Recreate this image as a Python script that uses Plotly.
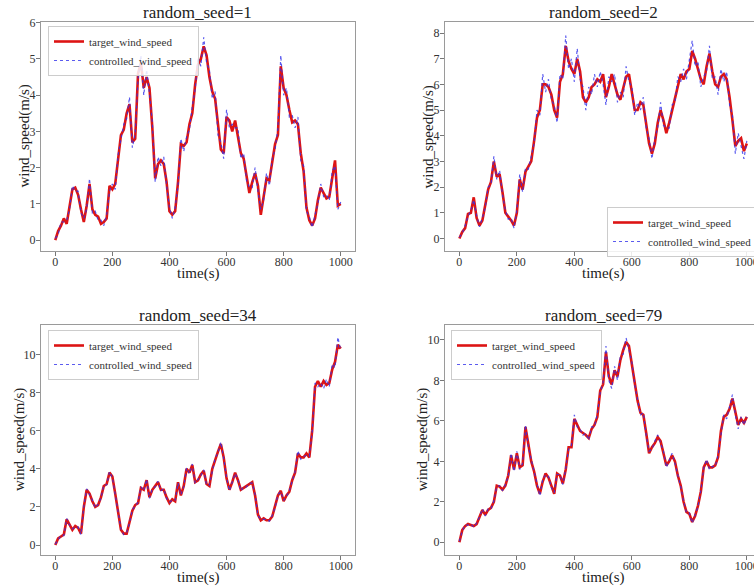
import plotly.graph_objects as go

time_s = list(range(0, 1001, 10))

seed1_target = [0.0,0.25,0.4,0.6,0.45,0.95,1.4,1.45,1.25,0.85,
 0.5,0.95,1.55,0.85,0.7,0.65,0.45,0.5,0.6,1.5,
 1.4,1.55,2.2,2.9,3.05,3.5,3.75,2.7,2.8,4.6,
 4.9,4.2,4.5,4.2,3.1,1.7,2.1,2.2,2.1,1.6,
 0.8,0.7,0.8,1.6,2.65,2.6,2.7,3.2,3.5,4.3,
 4.85,5.0,5.35,5.1,4.5,4.1,3.9,3.1,2.5,2.4,
 3.4,3.3,3.0,3.3,2.9,2.4,2.25,1.8,1.3,1.6,
 1.85,1.5,0.7,1.2,1.7,1.65,2.1,2.65,2.9,4.8,
 4.2,4.0,3.6,3.25,3.3,3.2,2.4,1.9,0.9,0.55,
 0.4,0.6,1.1,1.45,1.3,1.15,1.2,1.75,2.2,0.95,
 1.0]
seed1_ctrl = [0.05,0.15,0.5,0.5,0.55,0.85,1.5,1.35,1.35,0.75,
 0.6,0.85,1.7,0.75,0.8,0.55,0.55,0.4,0.7,1.35,
 1.55,1.4,2.35,2.75,3.2,3.35,3.95,2.55,2.95,4.45,
 5.1,4.0,4.7,4.05,3.25,1.6,2.3,2.05,2.3,1.5,
 0.9,0.6,0.9,1.5,2.8,2.45,2.85,3.05,3.7,4.15,
 5.05,4.8,5.6,4.9,4.7,3.9,4.1,2.9,2.7,2.25,
 3.6,3.1,3.2,3.1,3.1,2.25,2.4,1.65,1.45,1.45,
 2.0,1.35,0.85,1.1,1.85,1.5,2.25,2.5,3.1,5.1,
 4.0,4.2,3.4,3.45,3.1,3.4,2.2,2.05,0.8,0.65,
 0.35,0.7,1.0,1.55,1.2,1.25,1.1,1.9,2.05,0.85,
 1.05]

seed2_target = [0.0,0.25,0.4,0.95,1.0,1.6,0.8,0.5,0.7,1.3,
 1.9,2.2,3.0,2.4,2.5,1.8,1.0,0.85,0.7,0.5,
 1.0,2.3,1.9,2.6,2.8,3.0,3.8,4.7,5.0,6.0,
 6.0,5.9,5.6,5.0,4.7,6.1,6.4,7.5,6.9,6.6,
 6.4,7.0,6.5,5.5,5.3,5.5,5.9,6.0,6.2,6.1,
 6.4,5.5,5.9,6.4,6.0,5.6,5.4,5.8,6.3,6.4,
 5.6,5.0,5.0,5.3,5.2,4.5,3.7,3.3,3.7,4.5,
 5.0,4.6,4.1,4.5,5.0,5.5,6.0,6.4,6.2,6.5,
 6.6,7.3,7.0,6.6,6.2,6.0,6.7,7.2,6.5,6.0,
 5.9,6.3,6.4,6.2,5.5,4.6,3.6,3.8,3.9,3.4,
 3.7]
seed2_ctrl = [0.05,0.2,0.5,0.85,1.1,1.5,0.9,0.45,0.8,1.2,
 2.0,2.1,3.2,2.3,2.65,1.7,1.1,0.75,0.8,0.4,
 1.1,2.5,1.8,2.75,2.7,3.15,3.7,5.0,4.8,6.4,
 5.7,6.2,5.4,5.2,4.5,6.4,6.2,7.9,6.6,7.0,
 6.1,7.4,6.2,5.9,5.0,5.9,5.6,6.4,5.9,6.5,
 6.0,5.2,6.3,6.1,6.4,5.3,5.7,5.5,6.7,6.1,
 5.9,4.8,5.3,5.0,5.5,4.3,3.9,3.1,3.9,4.3,
 5.3,4.4,4.3,4.3,5.2,5.3,6.3,6.1,6.6,6.2,
 6.9,7.7,6.7,6.9,5.9,6.3,6.5,7.5,6.2,6.3,
 5.6,6.6,6.1,6.5,5.2,4.8,3.3,4.1,3.6,3.1,
 3.8]

seed34_target = [0.0,0.35,0.45,0.55,1.35,1.1,0.8,1.0,0.9,0.6,
 2.0,2.9,2.7,2.3,2.0,2.1,2.5,3.1,3.2,3.8,
 3.6,2.7,1.8,0.8,0.6,0.6,1.2,1.8,2.1,2.2,
 3.0,2.9,3.4,2.5,2.9,3.1,3.3,2.9,2.9,2.5,
 2.2,2.4,2.3,3.3,2.6,3.1,4.0,3.8,4.2,3.3,
 3.4,3.7,3.9,3.2,3.1,4.0,4.5,4.9,5.3,4.6,
 3.5,2.9,3.3,3.8,3.4,2.9,3.0,3.1,3.2,3.3,
 2.6,1.6,1.3,1.4,1.3,1.3,1.5,2.0,2.6,2.85,
 2.3,2.6,2.8,3.4,3.8,4.8,4.6,4.6,4.8,4.6,
 6.0,8.3,8.6,8.3,8.6,8.4,8.5,9.2,9.6,10.5,
 10.3]
seed34_ctrl = [0.05,0.3,0.5,0.5,1.4,1.05,0.85,0.95,0.95,0.55,
 2.05,2.95,2.65,2.35,1.95,2.15,2.45,3.15,3.15,3.85,
 3.55,2.75,1.75,0.85,0.55,0.65,1.15,1.85,2.05,2.25,
 3.05,2.85,3.45,2.45,2.95,3.05,3.35,2.85,2.95,2.45,
 2.25,2.35,2.35,3.25,2.65,3.05,4.05,3.75,4.25,3.25,
 3.45,3.65,3.95,3.15,3.15,3.95,4.55,4.85,5.4,4.55,
 3.55,2.85,3.35,3.75,3.45,2.85,3.05,3.05,3.25,3.25,
 2.65,1.55,1.35,1.35,1.35,1.25,1.55,1.95,2.65,2.8,
 2.35,2.55,2.85,3.35,3.85,4.95,4.5,4.65,4.7,4.65,
 5.9,8.5,8.3,8.5,8.2,8.7,8.3,9.5,9.3,10.9,
 10.2]

seed79_target = [0.0,0.6,0.8,0.9,0.85,0.8,0.9,1.3,1.6,1.35,
 1.6,1.7,2.0,2.8,2.75,2.6,2.8,3.3,4.3,3.6,
 4.4,3.7,3.8,5.7,4.8,4.0,3.5,2.8,2.4,3.0,
 3.4,3.2,2.8,2.4,3.4,3.3,2.9,3.6,4.7,4.7,
 6.1,5.8,5.5,5.4,5.3,5.15,5.6,5.8,6.2,7.5,
 7.8,9.4,8.2,7.8,8.5,8.2,9.0,9.5,9.9,9.7,
 8.8,7.9,7.0,6.4,6.3,5.4,4.4,4.7,4.9,5.2,
 5.0,4.4,3.8,4.0,4.3,4.0,3.3,2.8,2.0,1.5,
 1.4,1.0,1.3,1.8,2.5,3.7,4.0,3.7,3.7,3.8,
 4.2,5.5,6.2,6.3,6.6,7.1,6.5,5.8,6.1,5.9,
 6.2]
seed79_ctrl = [0.05,0.55,0.85,0.85,0.9,0.75,0.95,1.25,1.65,1.3,
 1.65,1.65,2.05,2.75,2.8,2.55,2.85,3.25,4.4,3.5,
 4.5,3.6,3.9,5.8,4.7,4.1,3.4,2.85,2.3,3.1,
 3.35,3.25,2.7,2.45,3.35,3.35,2.85,3.65,4.6,4.8,
 6.3,5.7,5.6,5.3,5.4,5.05,5.7,5.7,6.35,7.4,
 7.9,9.7,8.0,7.6,8.7,8.0,9.2,9.3,10.1,9.5,
 8.9,7.8,7.1,6.3,6.4,5.3,4.5,4.6,5.0,5.3,
 4.9,4.5,3.7,4.1,4.4,3.9,3.35,2.75,2.05,1.45,
 1.45,0.95,1.35,1.75,2.55,3.65,4.1,3.6,3.75,3.75,
 4.3,5.4,6.3,6.1,6.75,7.3,6.3,5.6,6.2,5.8,
 6.2]

titles = ["random_seed=1", "random_seed=2", "random_seed=34", "random_seed=79"]
targets = [seed1_target, seed2_target, seed34_target, seed79_target]
ctrls = [seed1_ctrl, seed2_ctrl, seed34_ctrl, seed79_ctrl]
y_ticks = [[0, 1, 2, 3, 4, 5, 6], [0, 1, 2, 3, 4, 5, 6, 7, 8], [0, 2, 4, 6, 8, 10], [0, 2, 4, 6, 8, 10]]
x_ticks = [0, 200, 400, 600, 800, 1000]

W, H = 754, 587
# pixel boxes: (left, right, top, bottom)
boxes = [(41, 355, 22, 251), (445, 754, 22, 251), (41, 355, 325, 555), (445, 754, 325, 555)]
x_ranges = [[-50, 1050], [-50, 1025], [-50, 1050], [-50, 1025]]
y_ranges = [[-0.3, 6.02], [-0.49, 8.43], [-0.52, 11.54], [-0.63, 10.74]]
legend_pos = [(48, 26), (607, 207), (48, 330), (451, 330)]
ylabel_x = [24, 428, 19, 422]

FONT = "Liberation Serif"
fig = go.Figure()
layout = dict(width=W, height=H, margin=dict(l=0, r=0, t=0, b=0, autoexpand=False),
              paper_bgcolor="white", plot_bgcolor="white",
              font=dict(family=FONT, color="#222"), annotations=[])

for i in range(4):
    n = "" if i == 0 else str(i + 1)
    lg = "legend" if i == 0 else "legend" + str(i + 1)
    xa, ya = "x" + n, "y" + n
    fig.add_trace(go.Scatter(x=time_s, y=targets[i], mode="lines", name="target_wind_speed",
                             line=dict(color="#dd1414", width=2.6), xaxis=xa, yaxis=ya, legend=lg))
    fig.add_trace(go.Scatter(x=time_s, y=ctrls[i], mode="lines", name="controlled_wind_speed",
                             line=dict(color="rgba(50,50,235,0.8)", width=1.2, dash="dot"),
                             xaxis=xa, yaxis=ya, legend=lg))
    l, r, t, b = boxes[i]
    common = dict(showline=True, mirror=True, linecolor="#9a9a9a", linewidth=1.2,
                  ticks="outside", ticklen=4, tickcolor="#777", showgrid=False, zeroline=False,
                  automargin=False, ticklabeloverflow="allow",
                  tickfont=dict(family=FONT, size=12, color="#333"))
    layout["xaxis" + n] = dict(domain=[l / W, r / W], range=x_ranges[i], anchor=ya,
                               tickvals=x_ticks, ticklabelstandoff=-5, **common)
    layout["yaxis" + n] = dict(domain=[1 - b / H, 1 - t / H], range=y_ranges[i], anchor=xa,
                               tickvals=y_ticks[i], ticklabelstandoff=-2, **common)
    lx, ly = legend_pos[i]
    layout[lg] = dict(x=lx / W, y=1 - ly / H, xanchor="left", yanchor="top",
                      bgcolor="rgba(255,255,255,0.85)", bordercolor="#cccccc", borderwidth=1,
                      font=dict(family=FONT, size=11, color="#333"),
                      itemwidth=30, tracegroupgap=0)
    # subplot title
    layout["annotations"].append(dict(text=titles[i], xref="paper",
                                      x=(l + (r if i % 2 == 0 else 761)) / 2 / W, y=1 - t / H,
                                      xanchor="center", yanchor="bottom", yref="paper",
                                      showarrow=False, yshift=-2,
                                      font=dict(family=FONT, size=17, color="#222")))
    # x title
    layout["annotations"].append(dict(text="time(s)", xref=xa, x=500, yref="paper",
                                      y=1 - (b + 22) / H, xanchor="center", yanchor="middle",
                                      showarrow=False, font=dict(family=FONT, size=15, color="#222")))
    # y title
    layout["annotations"].append(dict(text="wind_speed(m/s)", xref="paper", x=ylabel_x[i] / W,
                                      yref="paper", y=1 - (t + b) / 2 / H, xanchor="center",
                                      yanchor="middle", textangle=-90, showarrow=False,
                                      font=dict(family=FONT, size=15, color="#222")))

fig.update_layout(**layout)
fig.write_html("out.html", config={"displayModeBar": False},
               post_script="document.body.style.margin='0px';")
